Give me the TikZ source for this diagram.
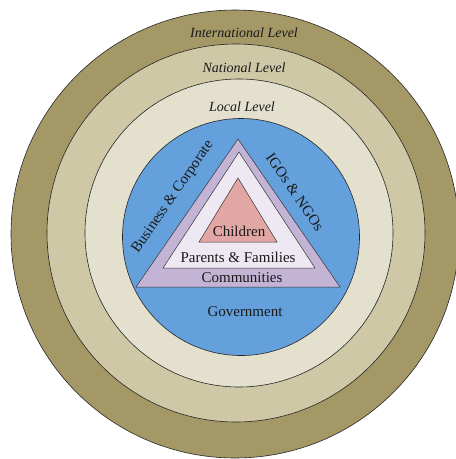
\documentclass[tikz,border=0pt]{standalone}
\usepackage{fontspec}
\setmainfont{Liberation Serif}
\definecolor{intc}{RGB}{164,152,102}
\definecolor{natc}{RGB}{206,200,166}
\definecolor{locc}{RGB}{227,224,205}
\definecolor{govc}{RGB}{100,160,220}
\definecolor{comc}{RGB}{195,180,214}
\definecolor{famc}{RGB}{237,232,242}
\definecolor{chic}{RGB}{226,167,164}
\definecolor{txtc}{RGB}{25,25,25}
\tikzset{
  ring/.style={circle, draw=black!85, line width=0.6pt, inner sep=0pt},
  tri/.style={draw=black!80, line width=0.5pt},
  lbl/.style={text=txtc, font=\fontsize{15}{17}\selectfont, inner sep=0pt},
  lvl/.style={text=txtc, font=\fontsize{14}{16}\selectfont\itshape, inner sep=0pt}
}
\begin{document}
\begin{tikzpicture}[x=1pt,y=-1pt]
\useasboundingbox (0,0) rectangle (456,459);
\node[ring, fill=intc, minimum size=448pt] (int) at (235,234) {};
\node[ring, fill=natc, minimum size=378pt] (nat) at (236,233) {};
\node[ring, fill=locc, minimum size=308pt] (loc) at (239,233) {};
\node[ring, fill=govc, minimum size=237pt] (gov) at (241,237) {};
\coordinate (oA) at (238,139);
\coordinate (oB) at (136,287);
\coordinate (oC) at (340,287);
\coordinate (mA) at (239,152);
\coordinate (mB) at (163,268);
\coordinate (mC) at (315,268);
\coordinate (iA) at (238,178);
\coordinate (iB) at (199,242);
\coordinate (iC) at (277,242);
\draw[tri, fill=comc] (oA) -- (oB) -- (oC) -- cycle;
\draw[tri, fill=famc] (mA) -- (mB) -- (mC) -- cycle;
\draw[tri, fill=chic] (iA) -- (iB) -- (iC) -- cycle;
\node[lvl] (tint) at (244,33) {International Level};
\node[lvl] (tnat) at (244,68) {National Level};
\node[lvl] (tloc) at (242,107) {Local Level};
\node[lbl] (tchi) at (239,231) {Children};
\node[lbl] (tfam) at (238,257) {Parents \& Families};
\node[lbl] (tcom) at (242,278) {Communities};
\node[lbl] (tgov) at (245,312) {Government};
\node[lbl, rotate=55.4] (tbus) at (173,197) {Business \& Corporate};
\node[lbl, rotate=-55.4] (tigo) at (295,192) {IGOs \& NGOs};
\end{tikzpicture}
\end{document}
